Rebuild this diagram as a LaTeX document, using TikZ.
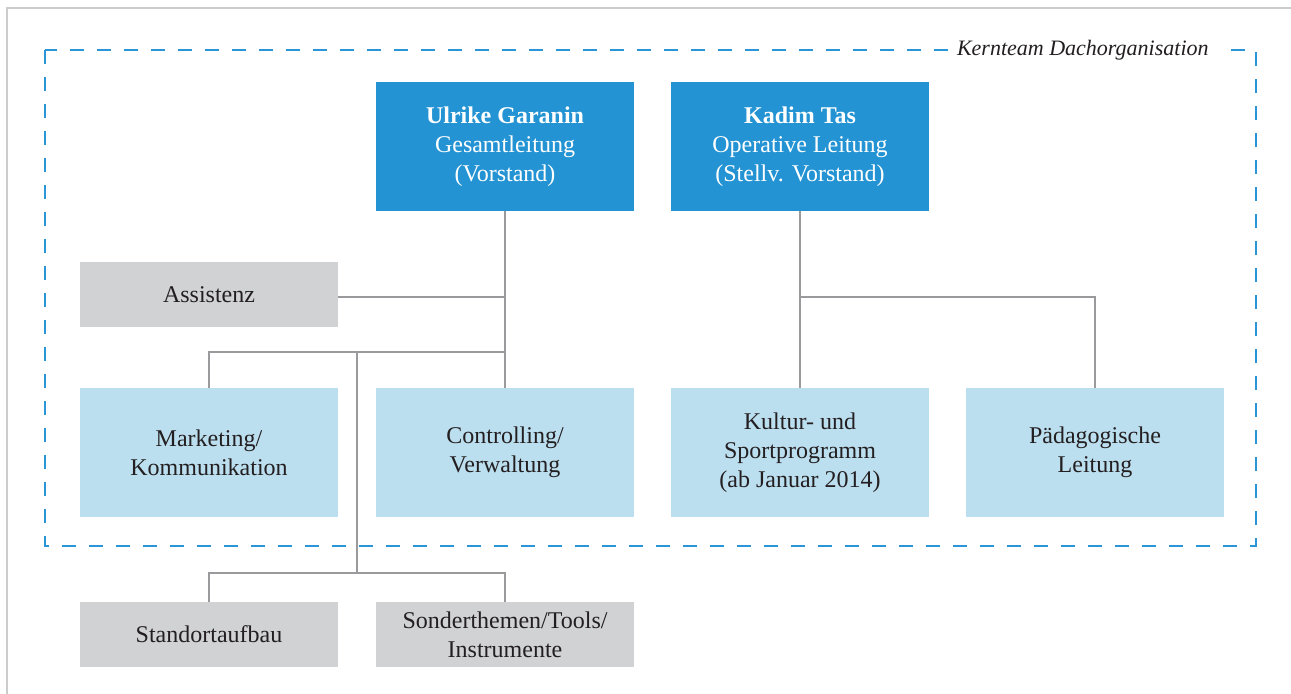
\documentclass[tikz,border=0pt]{standalone}
\usepackage{fontspec}
\setmainfont{Liberation Serif}
\usetikzlibrary{positioning, calc}

\definecolor{leadblue}{HTML}{2393D3}
\definecolor{unitblue}{HTML}{BCDFF0}
\definecolor{staffgray}{HTML}{D1D2D4}
\definecolor{linegray}{HTML}{9A9A9C}
\definecolor{dashblue}{HTML}{2A96D8}
\definecolor{inktext}{HTML}{231F20}

\begin{document}
\begin{tikzpicture}[
  x=0.5pt, y=-0.5pt,
  font=\fontsize{12}{14.5}\selectfont,
  lead/.style={fill=leadblue, text=white, align=center, inner sep=3pt,
    minimum width=129pt, minimum height=64.5pt},
  unit/.style={fill=unitblue, text=inktext, align=center, inner sep=3pt,
    minimum width=129pt, minimum height=64.5pt},
  staff/.style={fill=staffgray, text=inktext, align=center, inner sep=3pt,
    minimum width=129pt, minimum height=32.5pt},
  link/.style={draw=linegray, line width=1pt},
  kern/.style={draw=dashblue, line width=1pt, dash pattern=on 7pt off 6.5pt}
]
\useasboundingbox (0,0) rectangle (1291,693);

% page frame
\draw[draw=black!20, line width=0.6pt] (7,700) -- (7,8) -- (1300,8);

% core team boundary
\draw[kern] (45,50) rectangle (1256,546);
\node[fill=white, inner sep=4.5pt, text=inktext, font=\fontsize{11}{13}\selectfont\itshape, anchor=east]
  (kernlabel) at (1218,50) {Kernteam Dachorganisation};

% leadership
\node[lead] (ulrike) at (505,146.5) {\textbf{Ulrike Garanin}\\Gesamtleitung\\(Vorstand)};
\node[lead] (kadim)  at (800,146.5) {\textbf{Kadim Tas}\\Operative Leitung\\(Stellv. Vorstand)};

% staff and units
\node[staff] (assistenz)   at (209,294.5) {Assistenz};
\node[unit]  (marketing)   at (209,452.5) {Marketing/\\Kommunikation};
\node[unit]  (controlling) at (505,452.5) {Controlling/\\Verwaltung};
\node[unit]  (kultur)      at (800,452.5) {Kultur- und\\Sportprogramm\\(ab Januar 2014)};
\node[unit]  (paed)        at (1095,452.5) {Pädagogische\\Leitung};
\node[staff] (standort)    at (209,634.5) {Standortaufbau};
\node[staff] (sonder)      at (505,634.5) {Sonderthemen/Tools/\\Instrumente};

% junctions
\coordinate (ajoin)  at (505,297);
\coordinate (ujoin)  at (505,352);
\coordinate (usplit) at (357,352);
\coordinate (bjoin)  at (357,573);
\coordinate (kjoin)  at (800,297);

% left branch
\draw[link] (ulrike.south) -- (controlling.north);
\draw[link] (ajoin) -- (assistenz.east |- ajoin);
\draw[link] (marketing.north) |- (ujoin);
\draw[link] (usplit) -- (bjoin);
\draw[link] (standort.north) |- (bjoin) -| (sonder.north);

% right branch
\draw[link] (kadim.south) -- (kultur.north);
\draw[link] (kjoin) -| (paed.north);

\end{tikzpicture}
\end{document}
